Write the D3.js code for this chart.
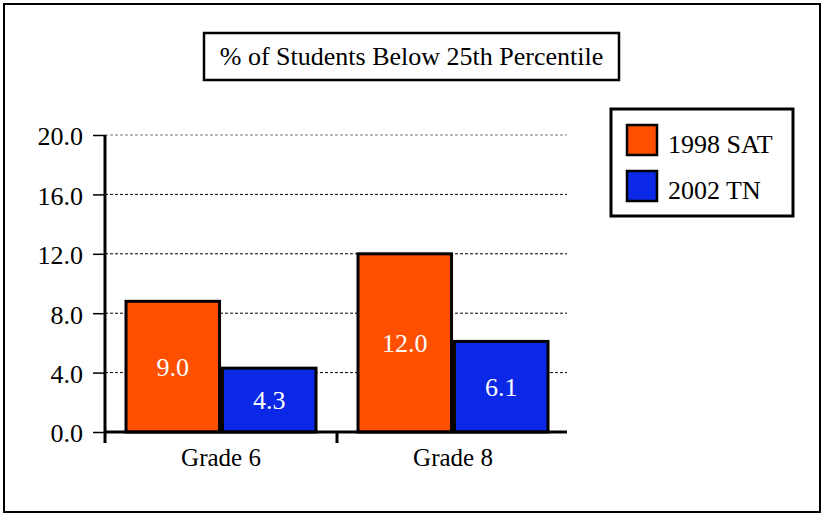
<!DOCTYPE html>
<html><head><meta charset="utf-8"><script src="https://cdn.jsdelivr.net/npm/d3@7"></script></head>
<body style="margin:0">
<script>
const title = '% of Students Below 25th Percentile';
const grades = ['Grade 6', 'Grade 8'];
const seriesNames = ['1998 SAT', '2002 TN'];
const sat1998 = [8.8, 12.0];
const tn2002 = [4.3, 6.1];
const sat1998Labels = ['9.0', '12.0'];
const tn2002Labels = ['4.3', '6.1'];
const yTicks = [0, 4, 8, 12, 16, 20];
const colors = ['#ff4f00', '#0a28e6'];

const width = 823;
const height = 516;
const margin = { top: 135, left: 105, bottom: 84 };
const serif = "'Liberation Serif', 'Times New Roman', serif";

const svg = d3.select('body').append('svg')
	.attr('width', width)
	.attr('height', height);

// text layer laid out like an axis group: g > g.tick > text
function textLayer(anchor) {
	return svg.append('g')
		.attr('fill', 'none')
		.attr('font-size', 26)
		.attr('font-family', serif)
		.attr('text-anchor', anchor);
}

function addLabels(layer, data, pos, fill, dy, size) {
	layer.selectAll('g.tick')
		.data(data)
		.join('g')
		.attr('class', 'tick')
		.attr('opacity', 1)
		.attr('transform', (d, i) => `translate(${pos(d, i)})`)
		.append('text')
		.attr('fill', fill)
		.attr('x', 0)
		.attr('dy', dy)
		.attr('style', `font: ${size || 26}px ${serif}`)
		.text((d) => d.text !== undefined ? d.text : d);
}

// outer frame
svg.append('rect')
	.attr('x', 4).attr('y', 4)
	.attr('width', 816).attr('height', 508)
	.attr('fill', 'none')
	.attr('stroke', '#000')
	.attr('stroke-width', 2);

// title box
svg.append('rect')
	.attr('x', 204).attr('y', 33)
	.attr('width', 415).attr('height', 47)
	.attr('fill', '#fff')
	.attr('stroke', '#000')
	.attr('stroke-width', 2.5);

addLabels(textLayer('middle'), [title], () => '411.5,56', '#000', '0.35em');

const x0 = d3.scaleBand()
	.domain(grades)
	.range([margin.left, 569]);

const x1 = d3.scaleBand()
	.domain(seriesNames)
	.range([21, x0.bandwidth() - 21])
	.paddingInner(0.03);

const y = d3.scaleLinear()
	.domain([0, 20])
	.range([height - margin.bottom, margin.top]);

const plotRight = x0.range()[1] - 2;

// gridlines
svg.append('g')
	.selectAll('line')
	.data(yTicks.filter((d) => d > 0))
	.join('line')
	.attr('x1', margin.left)
	.attr('x2', plotRight)
	.attr('y1', (d) => y(d))
	.attr('y2', (d) => y(d))
	.attr('stroke', (d) => d === 20 ? '#777' : '#000')
	.attr('stroke-width', 1)
	.attr('stroke-dasharray', '3,2');

const series = [
	{ name: seriesNames[0], values: sat1998, labels: sat1998Labels },
	{ name: seriesNames[1], values: tn2002, labels: tn2002Labels }
];

const bars = [];
series.forEach((s, si) => {
	grades.forEach((g, gi) => {
		bars.push({ grade: g, series: s.name, value: s.values[gi], text: s.labels[gi], color: colors[si] });
	});
});

svg.append('g')
	.selectAll('rect')
	.data(bars)
	.join('rect')
	.attr('x', (d) => x0(d.grade) + x1(d.series))
	.attr('y', (d) => y(d.value))
	.attr('width', x1.bandwidth())
	.attr('height', (d) => y(0) - y(d.value))
	.attr('fill', (d) => d.color)
	.attr('stroke', '#000')
	.attr('stroke-width', 3);

addLabels(textLayer('middle'), bars,
	(d) => `${x0(d.grade) + x1(d.series) + x1.bandwidth() / 2},${(y(d.value) + y(0)) / 2}`,
	'#fff', '0.35em');

// y axis, ticks and labels only; the thick axis line is drawn below
const yAxis = svg.append('g')
	.attr('transform', `translate(${margin.left},0)`)
	.call(d3.axisLeft(y)
		.tickValues(yTicks)
		.tickSize(12)
		.tickPadding(10)
		.tickFormat(d3.format('.1f')));

yAxis.select('.domain').remove();
yAxis.selectAll('.tick line').attr('stroke-width', 1.5);
yAxis.selectAll('.tick text')
	.attr('fill', '#000')
	.attr('font-size', 26)
	.attr('dy', '0.38em')
	.style('font-family', serif);

svg.append('line')
	.attr('x1', margin.left).attr('x2', margin.left)
	.attr('y1', y(20)).attr('y2', y(0) + 11)
	.attr('stroke', '#000')
	.attr('stroke-width', 3);

// x axis
svg.append('line')
	.attr('x1', margin.left).attr('x2', plotRight)
	.attr('y1', y(0)).attr('y2', y(0))
	.attr('stroke', '#000')
	.attr('stroke-width', 3);

svg.append('g')
	.selectAll('line')
	.data(grades.slice(1))
	.join('line')
	.attr('x1', (d) => x0(d)).attr('x2', (d) => x0(d))
	.attr('y1', y(0)).attr('y2', y(0) + 11)
	.attr('stroke', '#000')
	.attr('stroke-width', 3);

const xAxis = svg.append('g')
	.attr('transform', `translate(0,${y(0)})`)
	.call(d3.axisBottom(x0).tickSize(0).tickPadding(16));

xAxis.select('.domain').remove();
xAxis.selectAll('.tick text')
	.attr('fill', '#000')
	.attr('font-size', 25)
	.style('font-family', serif);

// legend
const legend = svg.append('g');
legend.append('rect')
	.attr('x', 611).attr('y', 109)
	.attr('width', 182).attr('height', 107)
	.attr('fill', '#fff')
	.attr('stroke', '#000')
	.attr('stroke-width', 3);

legend.selectAll('rect.swatch')
	.data(seriesNames)
	.join('rect')
	.attr('class', 'swatch')
	.attr('x', 627)
	.attr('y', (d, i) => 125 + i * 46)
	.attr('width', 30).attr('height', 30)
	.attr('fill', (d, i) => colors[i])
	.attr('stroke', '#000')
	.attr('stroke-width', 2.5);

addLabels(textLayer('start'), seriesNames, (d, i) => `668,${144 + i * 46}`, '#000', '0.35em');
</script></body></html>
